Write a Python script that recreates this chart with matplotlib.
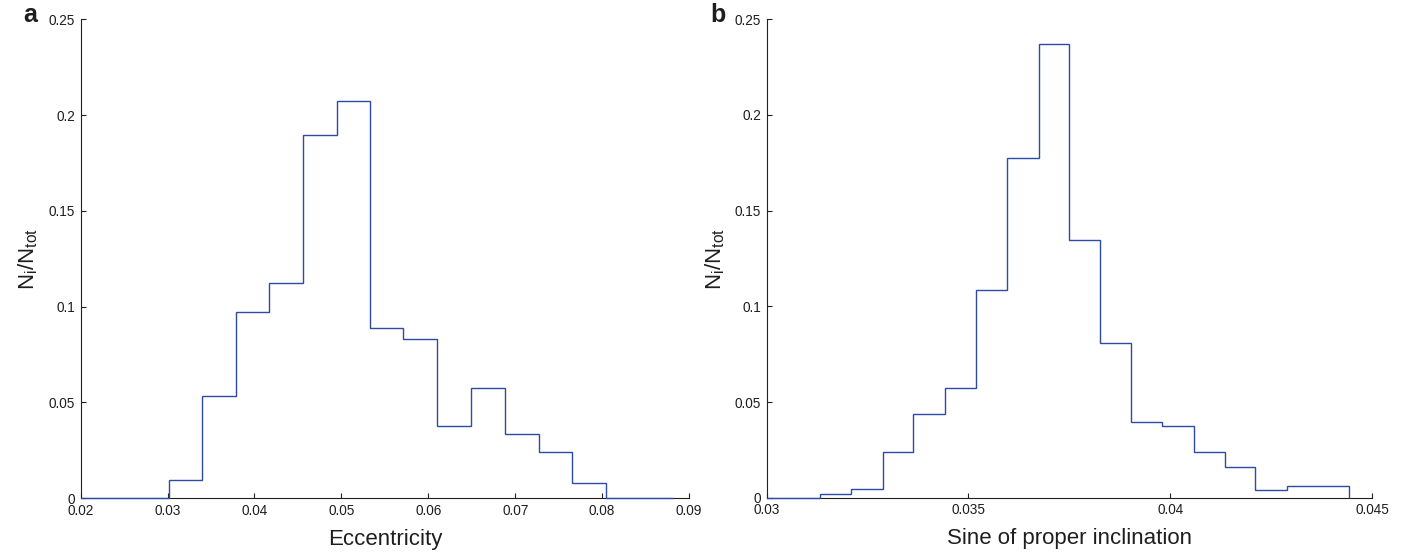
import numpy as np
import matplotlib
matplotlib.use("Agg")
import matplotlib.pyplot as plt
from matplotlib.patches import Rectangle

plt.rcParams['font.family'] = ['Liberation Sans', 'DejaVu Sans']
plt.rcParams['mathtext.default'] = 'regular'

# panel a: eccentricity histogram (fraction per bin)
ecc_edges = [0.0186, 0.0225, 0.0264, 0.0302, 0.0340, 0.0379, 0.0417, 0.0456, 0.0495,
             0.0533, 0.0571, 0.0610, 0.0649, 0.0688, 0.0727, 0.0765, 0.0804, 0.0843, 0.0882]
ecc_frac = [0, 0, 0, 0.0097, 0.0534, 0.0971, 0.1125, 0.1896, 0.2075, 0.0889,
            0.0830, 0.0377, 0.0574, 0.0337, 0.0240, 0.0078, 0, 0]

# panel b: sine of proper inclination histogram
inc_edges = [0.02978, 0.03055, 0.03132, 0.03210, 0.03288, 0.03364, 0.03441, 0.03518,
             0.03595, 0.03674, 0.03750, 0.03826, 0.03903, 0.03980, 0.04058, 0.04135,
             0.04211, 0.04289, 0.04366, 0.04443]
inc_frac = [0, 0, 0.0021, 0.0044, 0.0239, 0.0436, 0.0573, 0.1085, 0.1775, 0.2369,
            0.1345, 0.0810, 0.0396, 0.0376, 0.0239, 0.0159, 0.0042, 0.0061, 0.0061]

ecc_ticks = [0.02, 0.03, 0.04, 0.05, 0.06, 0.07, 0.08, 0.09]
ecc_ticklabels = ['0.02', '0.03', '0.04', '0.05', '0.06', '0.07', '0.08', '0.09']
inc_ticks = [0.03, 0.035, 0.04, 0.045]
inc_ticklabels = ['0.03', '0.035', '0.04', '0.045']
y_ticks = [0, 0.05, 0.1, 0.15, 0.2, 0.25]
y_ticklabels = ['0', '0.05', '0.1', '0.15', '0.2', '0.25']

line_col = '#2d4ba6'
txt_col = '#1e1e1e'

fig = plt.figure(figsize=(14.05, 5.55), dpi=100)
ax1 = fig.add_axes([0.0574, 0.1022, 0.4330, 0.8631])
ax2 = fig.add_axes([0.5456, 0.1032, 0.4309, 0.8620])


def setup(ax, edges, frac, xlim, xt, xtl, xlabel, ylab_x):
    st = ax.stairs(frac, edges, color=line_col, linewidth=1.0, zorder=3)
    clip = Rectangle((0, -0.01), 1, 1.01, transform=ax.transAxes)
    st.set_clip_path(clip)
    ax.set_xlim(xlim)
    ax.set_ylim(0, 0.25)
    ax.set_xticks(xt)
    ax.set_xticklabels(xtl)
    ax.set_yticks(y_ticks)
    ax.set_yticklabels(y_ticklabels)
    for s in ['top', 'right']:
        ax.spines[s].set_visible(False)
    for s in ['left', 'bottom']:
        ax.spines[s].set_linewidth(0.8)
        ax.spines[s].set_color('#202020')
    ax.tick_params(direction='in', length=3.8, width=0.8, labelsize=9.8,
                   colors='#202020', labelcolor=txt_col, pad=4)
    ax.set_xlabel(xlabel, fontsize=16, color=txt_col)
    ax.xaxis.set_label_coords(0.5, -0.064)
    ax.set_ylabel(r'N$_i$/N$_{tot}$', fontsize=16, color=txt_col)
    ax.yaxis.set_label_coords(ylab_x, 0.5)


setup(ax1, ecc_edges, ecc_frac, (0.02, 0.09), ecc_ticks, ecc_ticklabels,
      'Eccentricity', -0.066)
setup(ax2, inc_edges, inc_frac, (0.03, 0.045), inc_ticks, inc_ticklabels,
      'Sine of proper inclination', -0.065)

fig.text(0.0164, 0.960, 'a', fontsize=18, fontweight='bold', color=txt_col, va='baseline')
fig.text(0.5053, 0.960, 'b', fontsize=18, fontweight='bold', color=txt_col, va='baseline')

fig.savefig('out.png', dpi=100)
